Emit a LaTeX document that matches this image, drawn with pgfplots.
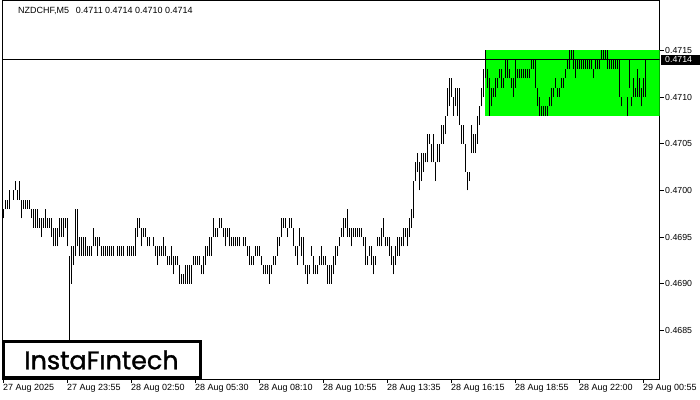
\documentclass[border=0pt]{standalone}
\usepackage{fontspec}
\setmainfont{Liberation Sans}
\newfontfamily\logofont{Poppins}[FakeBold=1.3]
\usepackage{pgfplots}
\usepackage{pgfplotstable}
\pgfplotsset{compat=1.18}
\definecolor{boxgreen}{RGB}{0,255,0}

% M5 bars: index, low, high
\pgfplotstableread[row sep=\\]{
i lo hi\\
0 0.4697 0.4698\\ 1 0.4698 0.4699\\ 2 0.4698 0.4699\\ 3 0.4698 0.4700\\ 4 0.4698 0.4698\\
5 0.4699 0.4700\\ 6 0.4700 0.4701\\ 7 0.4699 0.4700\\ 8 0.4699 0.4701\\ 9 0.4697 0.4699\\
10 0.4698 0.4699\\ 11 0.4698 0.4699\\ 12 0.4698 0.4699\\ 13 0.4698 0.4699\\ 14 0.4697 0.4698\\
15 0.4696 0.4698\\ 16 0.4696 0.4698\\ 17 0.4696 0.4698\\ 18 0.4696 0.4697\\ 19 0.4695 0.4697\\
20 0.4696 0.4697\\ 21 0.4696 0.4698\\ 22 0.4696 0.4697\\ 23 0.4696 0.4697\\ 24 0.4695 0.4697\\
25 0.4694 0.4696\\ 26 0.4694 0.4696\\ 27 0.4694 0.4696\\ 28 0.4695 0.4697\\ 29 0.4695 0.4697\\
30 0.4695 0.4697\\ 31 0.4696 0.4697\\ 32 0.4694 0.4697\\ 33 0.4684 0.4693\\ 34 0.4690 0.4694\\
35 0.4692 0.4694\\ 36 0.4693 0.4698\\ 37 0.4694 0.4698\\ 38 0.4693 0.4695\\ 39 0.4693 0.4695\\
40 0.4693 0.4695\\ 41 0.4693 0.4695\\ 42 0.4693 0.4694\\ 43 0.4693 0.4694\\ 44 0.4693 0.4694\\
45 0.4694 0.4696\\ 46 0.4694 0.4695\\ 47 0.4693 0.4695\\ 48 0.4694 0.4695\\ 49 0.4693 0.4694\\
50 0.4693 0.4694\\ 51 0.4693 0.4694\\ 52 0.4693 0.4694\\ 53 0.4693 0.4694\\ 54 0.4693 0.4694\\
55 0.4693 0.4694\\ 56 0.4694 0.4694\\ 57 0.4693 0.4694\\ 58 0.4693 0.4694\\ 59 0.4693 0.4694\\
60 0.4693 0.4694\\ 61 0.4693 0.4693\\ 62 0.4693 0.4694\\ 63 0.4693 0.4694\\ 64 0.4693 0.4694\\
65 0.4693 0.4694\\ 66 0.4693 0.4696\\ 67 0.4695 0.4697\\ 68 0.4696 0.4697\\ 69 0.4694 0.4696\\
70 0.4695 0.4696\\ 71 0.4695 0.4696\\ 72 0.4694 0.4695\\ 73 0.4694 0.4695\\ 74 0.4694 0.4694\\
75 0.4694 0.4695\\ 76 0.4693 0.4694\\ 77 0.4692 0.4694\\ 78 0.4693 0.4694\\ 79 0.4693 0.4694\\
80 0.4693 0.4695\\ 81 0.4693 0.4694\\ 82 0.4692 0.4693\\ 83 0.4692 0.4693\\ 84 0.4692 0.4694\\
85 0.4691 0.4693\\ 86 0.4692 0.4693\\ 87 0.4692 0.4693\\ 88 0.4690 0.4692\\ 89 0.4690 0.4691\\
90 0.4690 0.4691\\ 91 0.4690 0.4692\\ 92 0.4690 0.4692\\ 93 0.4690 0.4692\\ 94 0.4690 0.4692\\
95 0.4692 0.4693\\ 96 0.4692 0.4693\\ 97 0.4692 0.4693\\ 98 0.4692 0.4693\\ 99 0.4691 0.4692\\
100 0.4691 0.4693\\ 101 0.4692 0.4694\\ 102 0.4693 0.4694\\ 103 0.4693 0.4695\\ 104 0.4693 0.4695\\
105 0.4695 0.4697\\ 106 0.4695 0.4696\\ 107 0.4695 0.4696\\ 108 0.4696 0.4697\\ 109 0.4696 0.4697\\
110 0.4695 0.4696\\ 111 0.4694 0.4696\\ 112 0.4695 0.4696\\ 113 0.4694 0.4696\\ 114 0.4694 0.4695\\
115 0.4694 0.4695\\ 116 0.4694 0.4695\\ 117 0.4694 0.4695\\ 118 0.4694 0.4695\\ 119 0.4695 0.4695\\
120 0.4694 0.4695\\ 121 0.4694 0.4695\\ 122 0.4693 0.4694\\ 123 0.4692 0.4694\\ 124 0.4692 0.4693\\
125 0.4692 0.4693\\ 126 0.4693 0.4694\\ 127 0.4693 0.4694\\ 128 0.4693 0.4694\\ 129 0.4692 0.4693\\
130 0.4691 0.4692\\ 131 0.4691 0.4692\\ 132 0.4691 0.4692\\ 133 0.4690 0.4692\\ 134 0.4691 0.4692\\
135 0.4692 0.4693\\ 136 0.4692 0.4693\\ 137 0.4693 0.4695\\ 138 0.4694 0.4695\\ 139 0.4695 0.4697\\
140 0.4696 0.4697\\ 141 0.4696 0.4697\\ 142 0.4695 0.4696\\ 143 0.4696 0.4697\\ 144 0.4696 0.4697\\
145 0.4694 0.4696\\ 146 0.4693 0.4694\\ 147 0.4692 0.4694\\ 148 0.4694 0.4696\\ 149 0.4693 0.4695\\
150 0.4692 0.4695\\ 151 0.4691 0.4692\\ 152 0.4690 0.4692\\ 153 0.4691 0.4692\\ 154 0.4693 0.4694\\
155 0.4691 0.4693\\ 156 0.4691 0.4692\\ 157 0.4691 0.4692\\ 158 0.4692 0.4693\\ 159 0.4692 0.4694\\
160 0.4692 0.4693\\ 161 0.4692 0.4693\\ 162 0.4690 0.4692\\ 163 0.4690 0.4692\\ 164 0.4690 0.4692\\
165 0.4691 0.4693\\ 166 0.4692 0.4694\\ 167 0.4693 0.4694\\ 168 0.4694 0.4695\\ 169 0.4695 0.4696\\
170 0.4695 0.4697\\ 171 0.4696 0.4697\\ 172 0.4695 0.4698\\ 173 0.4695 0.4696\\ 174 0.4694 0.4696\\
175 0.4695 0.4696\\ 176 0.4695 0.4696\\ 177 0.4695 0.4696\\ 178 0.4695 0.4696\\ 179 0.4695 0.4696\\
180 0.4694 0.4695\\ 181 0.4692 0.4695\\ 182 0.4692 0.4693\\ 183 0.4693 0.4694\\ 184 0.4692 0.4694\\
185 0.4691 0.4693\\ 186 0.4692 0.4693\\ 187 0.4694 0.4695\\ 188 0.4694 0.4695\\ 189 0.4694 0.4696\\
190 0.4695 0.4697\\ 191 0.4694 0.4695\\ 192 0.4694 0.4695\\ 193 0.4693 0.4695\\ 194 0.4692 0.4694\\
195 0.4691 0.4693\\ 196 0.4692 0.4694\\ 197 0.4693 0.4695\\ 198 0.4693 0.4695\\ 199 0.4694 0.4695\\
200 0.4694 0.4696\\ 201 0.4695 0.4696\\ 202 0.4694 0.4696\\ 203 0.4695 0.4697\\ 204 0.4696 0.4698\\
205 0.4697 0.4701\\ 206 0.4701 0.4703\\ 207 0.4702 0.4704\\ 208 0.4700 0.4703\\ 209 0.4701 0.4704\\
210 0.4702 0.4704\\ 211 0.4703 0.4704\\ 212 0.4703 0.4706\\ 213 0.4705 0.4706\\ 214 0.4703 0.4705\\
215 0.4703 0.4706\\ 216 0.4701 0.4703\\ 217 0.4703 0.4705\\ 218 0.4703 0.4705\\ 219 0.4705 0.4707\\
220 0.4705 0.4707\\ 221 0.4706 0.4708\\ 222 0.4708 0.4711\\ 223 0.4709 0.4712\\ 224 0.4710 0.4712\\
225 0.4708 0.4710\\ 226 0.4709 0.4711\\ 227 0.4708 0.4711\\ 228 0.4707 0.4711\\ 229 0.4705 0.4707\\
230 0.4705 0.4707\\ 231 0.4702 0.4705\\ 232 0.4700 0.4702\\ 233 0.4701 0.4702\\ 234 0.4704 0.4707\\
235 0.4704 0.4706\\ 236 0.4704 0.4706\\ 237 0.4705 0.4708\\ 238 0.4707 0.4709\\ 239 0.4709 0.4711\\
240 0.4710 0.4713\\ 241 0.4712 0.4715\\ 242 0.4711 0.4713\\ 243 0.4708 0.4712\\ 244 0.4709 0.4711\\
245 0.4710 0.4711\\ 246 0.4710 0.4712\\ 247 0.4711 0.4712\\ 248 0.4712 0.4713\\ 249 0.4711 0.4713\\
250 0.4711 0.4712\\ 251 0.4712 0.4714\\ 252 0.4712 0.4714\\ 253 0.4712 0.4713\\ 254 0.4711 0.4712\\
255 0.4710 0.4712\\ 256 0.4711 0.4714\\ 257 0.4712 0.4713\\ 258 0.4712 0.4713\\ 259 0.4712 0.4713\\
260 0.4712 0.4713\\ 261 0.4712 0.4713\\ 262 0.4712 0.4713\\ 263 0.4712 0.4713\\ 264 0.4713 0.4714\\
265 0.4713 0.4714\\ 266 0.4711 0.4714\\ 267 0.4709 0.4711\\ 268 0.4708 0.4710\\ 269 0.4708 0.4709\\
270 0.4708 0.4709\\ 271 0.4708 0.4709\\ 272 0.4708 0.4709\\ 273 0.4709 0.4710\\ 274 0.4709 0.4711\\
275 0.4710 0.4711\\ 276 0.4711 0.4712\\ 277 0.4710 0.4711\\ 278 0.4710 0.4711\\ 279 0.4711 0.4712\\
280 0.4711 0.4712\\ 281 0.4712 0.4713\\ 282 0.4713 0.4714\\ 283 0.4713 0.4715\\ 284 0.4714 0.4715\\
285 0.4713 0.4715\\ 286 0.4712 0.4714\\ 287 0.4713 0.4714\\ 288 0.4713 0.4714\\ 289 0.4713 0.4714\\
290 0.4713 0.4714\\ 291 0.4713 0.4714\\ 292 0.4713 0.4714\\ 293 0.4713 0.4714\\ 294 0.4713 0.4714\\
295 0.4712 0.4713\\ 296 0.4713 0.4714\\ 297 0.4713 0.4714\\ 298 0.4713 0.4714\\ 299 0.4714 0.4715\\
300 0.4714 0.4715\\ 301 0.4714 0.4715\\ 302 0.4713 0.4715\\ 303 0.4713 0.4714\\ 304 0.4713 0.4714\\
305 0.4713 0.4714\\ 306 0.4713 0.4714\\ 307 0.4713 0.4714\\ 308 0.4710 0.4714\\ 309 0.4709 0.4710\\
310 0.4709 0.4709\\ 311 0.4710 0.4710\\ 312 0.4708 0.4710\\ 313 0.4711 0.4714\\ 314 0.4709 0.4710\\
315 0.4710 0.4712\\ 316 0.4710 0.4711\\ 317 0.4710 0.4713\\ 318 0.4710 0.4712\\ 319 0.4709 0.4711\\
320 0.4710 0.4712\\ 321 0.4710 0.4714\\
}\bars

\begin{document}
\begin{tikzpicture}
\begin{axis}[
    width=657.5bp, height=379bp, scale only axis,
    xmin=-0.5, xmax=328.25,
    ymin=0.46798, ymax=0.47204,
    axis line style={black, line width=0.8bp},
    tick style={black, line width=0.8bp},
    tick align=outside,
    major tick length=4bp,
    xtick pos=bottom,
    ytick pos=right,
    yticklabel pos=right,
    xtick={0,32,64,96,128,160,192,224,256,288,320},
    xticklabels={27 Aug 2025, 27 Aug 23:55, 28 Aug 02:50, 28 Aug 05:30, 28 Aug 08:10, 28 Aug 10:55, 28 Aug 13:35, 28 Aug 16:15, 28 Aug 18:55, 28 Aug 22:00, 29 Aug 00:55},
    ytick={0.4685,0.4690,0.4695,0.4700,0.4705,0.4710,0.4715},
    yticklabels={0.4685,0.4690,0.4695,0.4700,0.4705,0.4710,0.4715},
    xticklabel style={font=\fontsize{9}{10}\selectfont, anchor=north west, inner sep=0pt, yshift=-1bp},
    yticklabel style={font=\fontsize{8.8}{10}\selectfont, anchor=west, inner sep=0pt, xshift=1.5bp},
    /pgf/number format/assume math mode=true,
]
% pattern box
\addplot[fill=boxgreen, draw=none] coordinates {
    (241,0.4708) (328.25,0.4708) (328.25,0.4715) (241,0.4715)};
% current price line
\addplot[black, line width=0.8bp] coordinates {(-0.5,0.4714) (328.25,0.4714)};
% high-low bars (drawn as error bars from the low up to the high)
\addplot[draw=none, mark=none,
    error bars/.cd, y dir=plus, y explicit, error mark=none,
    error bar style={draw=black, line width=1bp}]
    table[x=i, y=lo, y error expr=\thisrow{hi}-\thisrow{lo}] {\bars};
\coordinate (price) at (axis cs:328.25,0.4714);
\end{axis}
% price tag on the scale
\fill[black] ([xshift=1bp,yshift=-5bp]price) rectangle ([xshift=40bp,yshift=5bp]price);
\node[anchor=west, inner sep=0pt, text=white, font=\fontsize{8.8}{10}\selectfont]
    at ([xshift=5.5bp]price) {0.4714};
% header
\node[anchor=west, inner sep=0pt, font=\fontsize{9}{10}\selectfont]
    at (16bp,368bp) {NZDCHF,M5\hspace{7bp}0.4711 0.4714 0.4710 0.4714};
% logo
\draw[black, line width=3bp, fill=white] (1.5bp,1.5bp) rectangle (198.5bp,37.5bp);
\node[inner sep=0pt, font=\logofont\fontsize{25.5}{26}\selectfont] at (99.5bp,19bp) {InstaFıntech};
\pgfresetboundingbox
\path[use as bounding box] (-2bp,-21bp) rectangle (698bp,379bp);
\end{tikzpicture}
\end{document}
